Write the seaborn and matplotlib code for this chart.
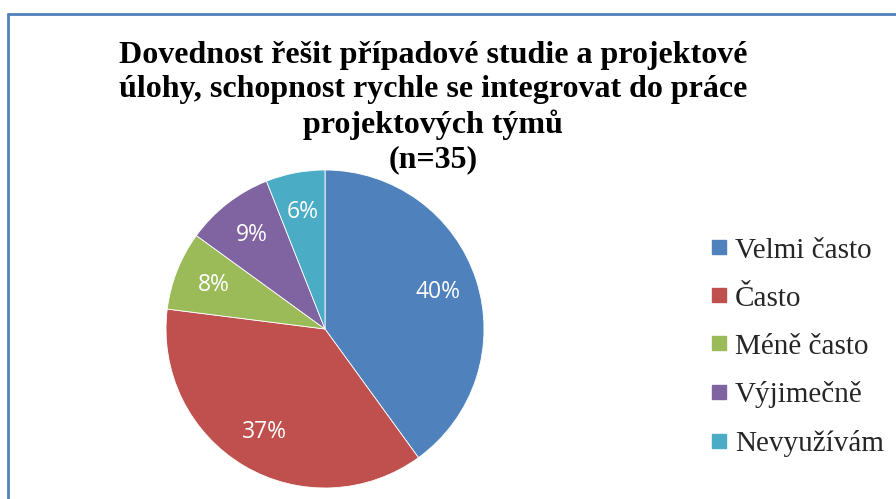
import matplotlib
matplotlib.use("Agg")
import matplotlib.pyplot as plt
from matplotlib.lines import Line2D
import seaborn as sns

categories = ["Velmi často", "Často", "Méně často", "Výjimečně", "Nevyužívám"]
values = [40, 37, 8, 9, 6]
colors = ["#4F81BD", "#C0504D", "#9BBB59", "#8064A2", "#4BACC6"]
title_lines = ["Dovednost řešit případové studie a projektové",
               "úlohy, schopnost rychle se integrovat do práce",
               "projektových týmů",
               "(n=35)"]

sns.set_theme(style="white")
palette = sns.color_palette(colors)

W, H = 896, 499
fig = plt.figure(figsize=(W / 100, H / 100), dpi=100)
fig.patch.set_facecolor("white")

# pie axes: center (325, 329) px, radius 159 px
cx, cy, r = 325, 329, 159
ax = fig.add_axes([(cx - r) / W, (H - cy - r) / H, 2 * r / W, 2 * r / H])
wedges, texts, autotexts = ax.pie(
    values, colors=palette, startangle=90, counterclock=False,
    autopct=lambda p: f"{p:.0f}%", pctdistance=0.75, radius=1,
    wedgeprops=dict(linewidth=0.6, edgecolor="white"),
    textprops=dict(color="white", fontsize=16.5, family=["Open Sans", "DejaVu Sans"]))
ax.set_xlim(-1, 1)
ax.set_ylim(-1, 1)
ax.set_aspect("auto")
ax.axis("off")

# title
ys = [55, 90, 125, 160]
for line, y in zip(title_lines, ys):
    fig.text(433 / W, 1 - y / H, line, ha="center", va="center",
             fontsize=23, fontweight="bold",
             family=["Liberation Serif", "DejaVu Serif"], color="black")

# legend
handles = [Line2D([0], [0], marker="s", linestyle="none", markersize=10,
                  markerfacecolor=c, markeredgecolor=c) for c in palette]
leg = fig.legend(handles, categories, loc="center left",
                 bbox_to_anchor=(707 / W, 1 - 347 / H), frameon=False,
                 prop=dict(family=["Liberation Serif", "DejaVu Serif"], size=21),
                 handlelength=0.8, handletextpad=0.15, labelspacing=0.74,
                 borderpad=0, borderaxespad=0)

# chart border (top and left visible)
border = "#4F81BD"
fig.add_artist(Line2D([7.5 / W, 1.0], [1 - 14 / H, 1 - 14 / H],
                      transform=fig.transFigure, color=border, linewidth=2))
fig.add_artist(Line2D([7.5 / W, 7.5 / W], [0, 1 - 14 / H],
                      transform=fig.transFigure, color=border, linewidth=2))

fig.savefig("out.png", dpi=100)
